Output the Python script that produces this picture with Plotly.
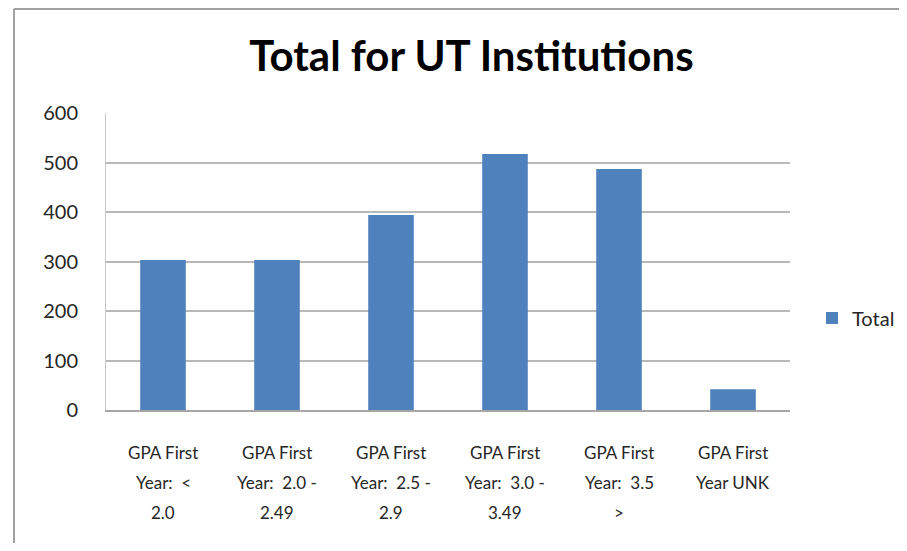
import plotly.graph_objects as go

categories = ["GPA First Year: < 2.0", "GPA First Year: 2.0 - 2.49", "GPA First Year: 2.5 - 2.9",
              "GPA First Year: 3.0 - 3.49", "GPA First Year: 3.5 >", "GPA First Year UNK"]
tick_label_lines = [["GPA First", "Year:  &lt;", "2.0"],
                    ["GPA First", "Year:  2.0 -", "2.49"],
                    ["GPA First", "Year:  2.5 -", "2.9"],
                    ["GPA First", "Year:  3.0 -", "3.49"],
                    ["GPA First", "Year:  3.5", "&gt;"],
                    ["GPA First", "Year UNK"]]
totals = [303, 303, 394, 517, 487, 42]
y_ticks = [0, 100, 200, 300, 400, 500, 600]

FONT = "Lato, 'Open Sans', sans-serif"
TXT = "#262626"
# page body has an 8px margin on every side: figure coords = screen coords - 8
OFF = 8
W, H = 907 - 2 * OFF, 551 - 2 * OFF
L, R, T, B = 106 - OFF, 790 - OFF, 113 - OFF, 410 - OFF

fig = go.Figure()
fig.add_trace(go.Bar(x=categories, y=totals, name="Total", marker_color="#4F81BD",
                     marker_line_width=0))

fig.update_layout(
    width=W, height=H,
    margin=dict(l=L, r=W - R, t=T, b=H - B, autoexpand=False),
    paper_bgcolor="white", plot_bgcolor="white",
    bargap=0.6,
    title=dict(text="<b>Total for UT Institutions</b>", x=(471.5 - OFF) / W, xref="container",
               xanchor="center", y=1 - (56 - OFF) / H, yref="container", yanchor="middle",
               font=dict(family=FONT, size=42, color="#000000")),
    showlegend=True,
    legend=dict(x=(812 - OFF) / W, xref="container", xanchor="left",
                y=1 - (318 - OFF) / H, yref="container", yanchor="middle",
                font=dict(family=FONT, size=20, color=TXT),
                itemwidth=30, bgcolor="rgba(0,0,0,0)"),
    font=dict(family=FONT, color=TXT),
)
fig.update_xaxes(showticklabels=False, showline=True, linecolor="#a6a6a6",
                 linewidth=1.5, showgrid=False)
fig.update_yaxes(range=[0, 600], tickvals=y_ticks, showgrid=True, gridcolor="#b8b8b8", gridwidth=1.5,
                 showline=True, linecolor="#c8c8c8", linewidth=1, zeroline=False,
                 tickfont=dict(family=FONT, size=20, color=TXT), ticklabelstandoff=23)

# category labels, one annotation per line (line spacing 30px)
for cat, lines in zip(categories, tick_label_lines):
    for i, line in enumerate(lines):
        fig.add_annotation(x=cat, xref="x", y=0, yref="paper", text=line, showarrow=False,
                           xanchor="center", yanchor="middle", yshift=-(42 + 30 * i),
                           font=dict(family=FONT, size=17, color=TXT))

# outer chart frame (top and left edges visible)
fx = (14 - OFF - L) / (R - L)
fy_top = (B - 1) / (B - T)
fig.add_shape(type="line", xref="paper", yref="paper",
              x0=fx, x1=(W - L) / (R - L), y0=fy_top, y1=fy_top,
              line=dict(color="#a0a0a0", width=2))
fig.add_shape(type="line", xref="paper", yref="paper",
              x0=fx, x1=fx, y0=fy_top, y1=(B - H) / (B - T),
              line=dict(color="#a0a0a0", width=2))

fig.write_html("out.html")
